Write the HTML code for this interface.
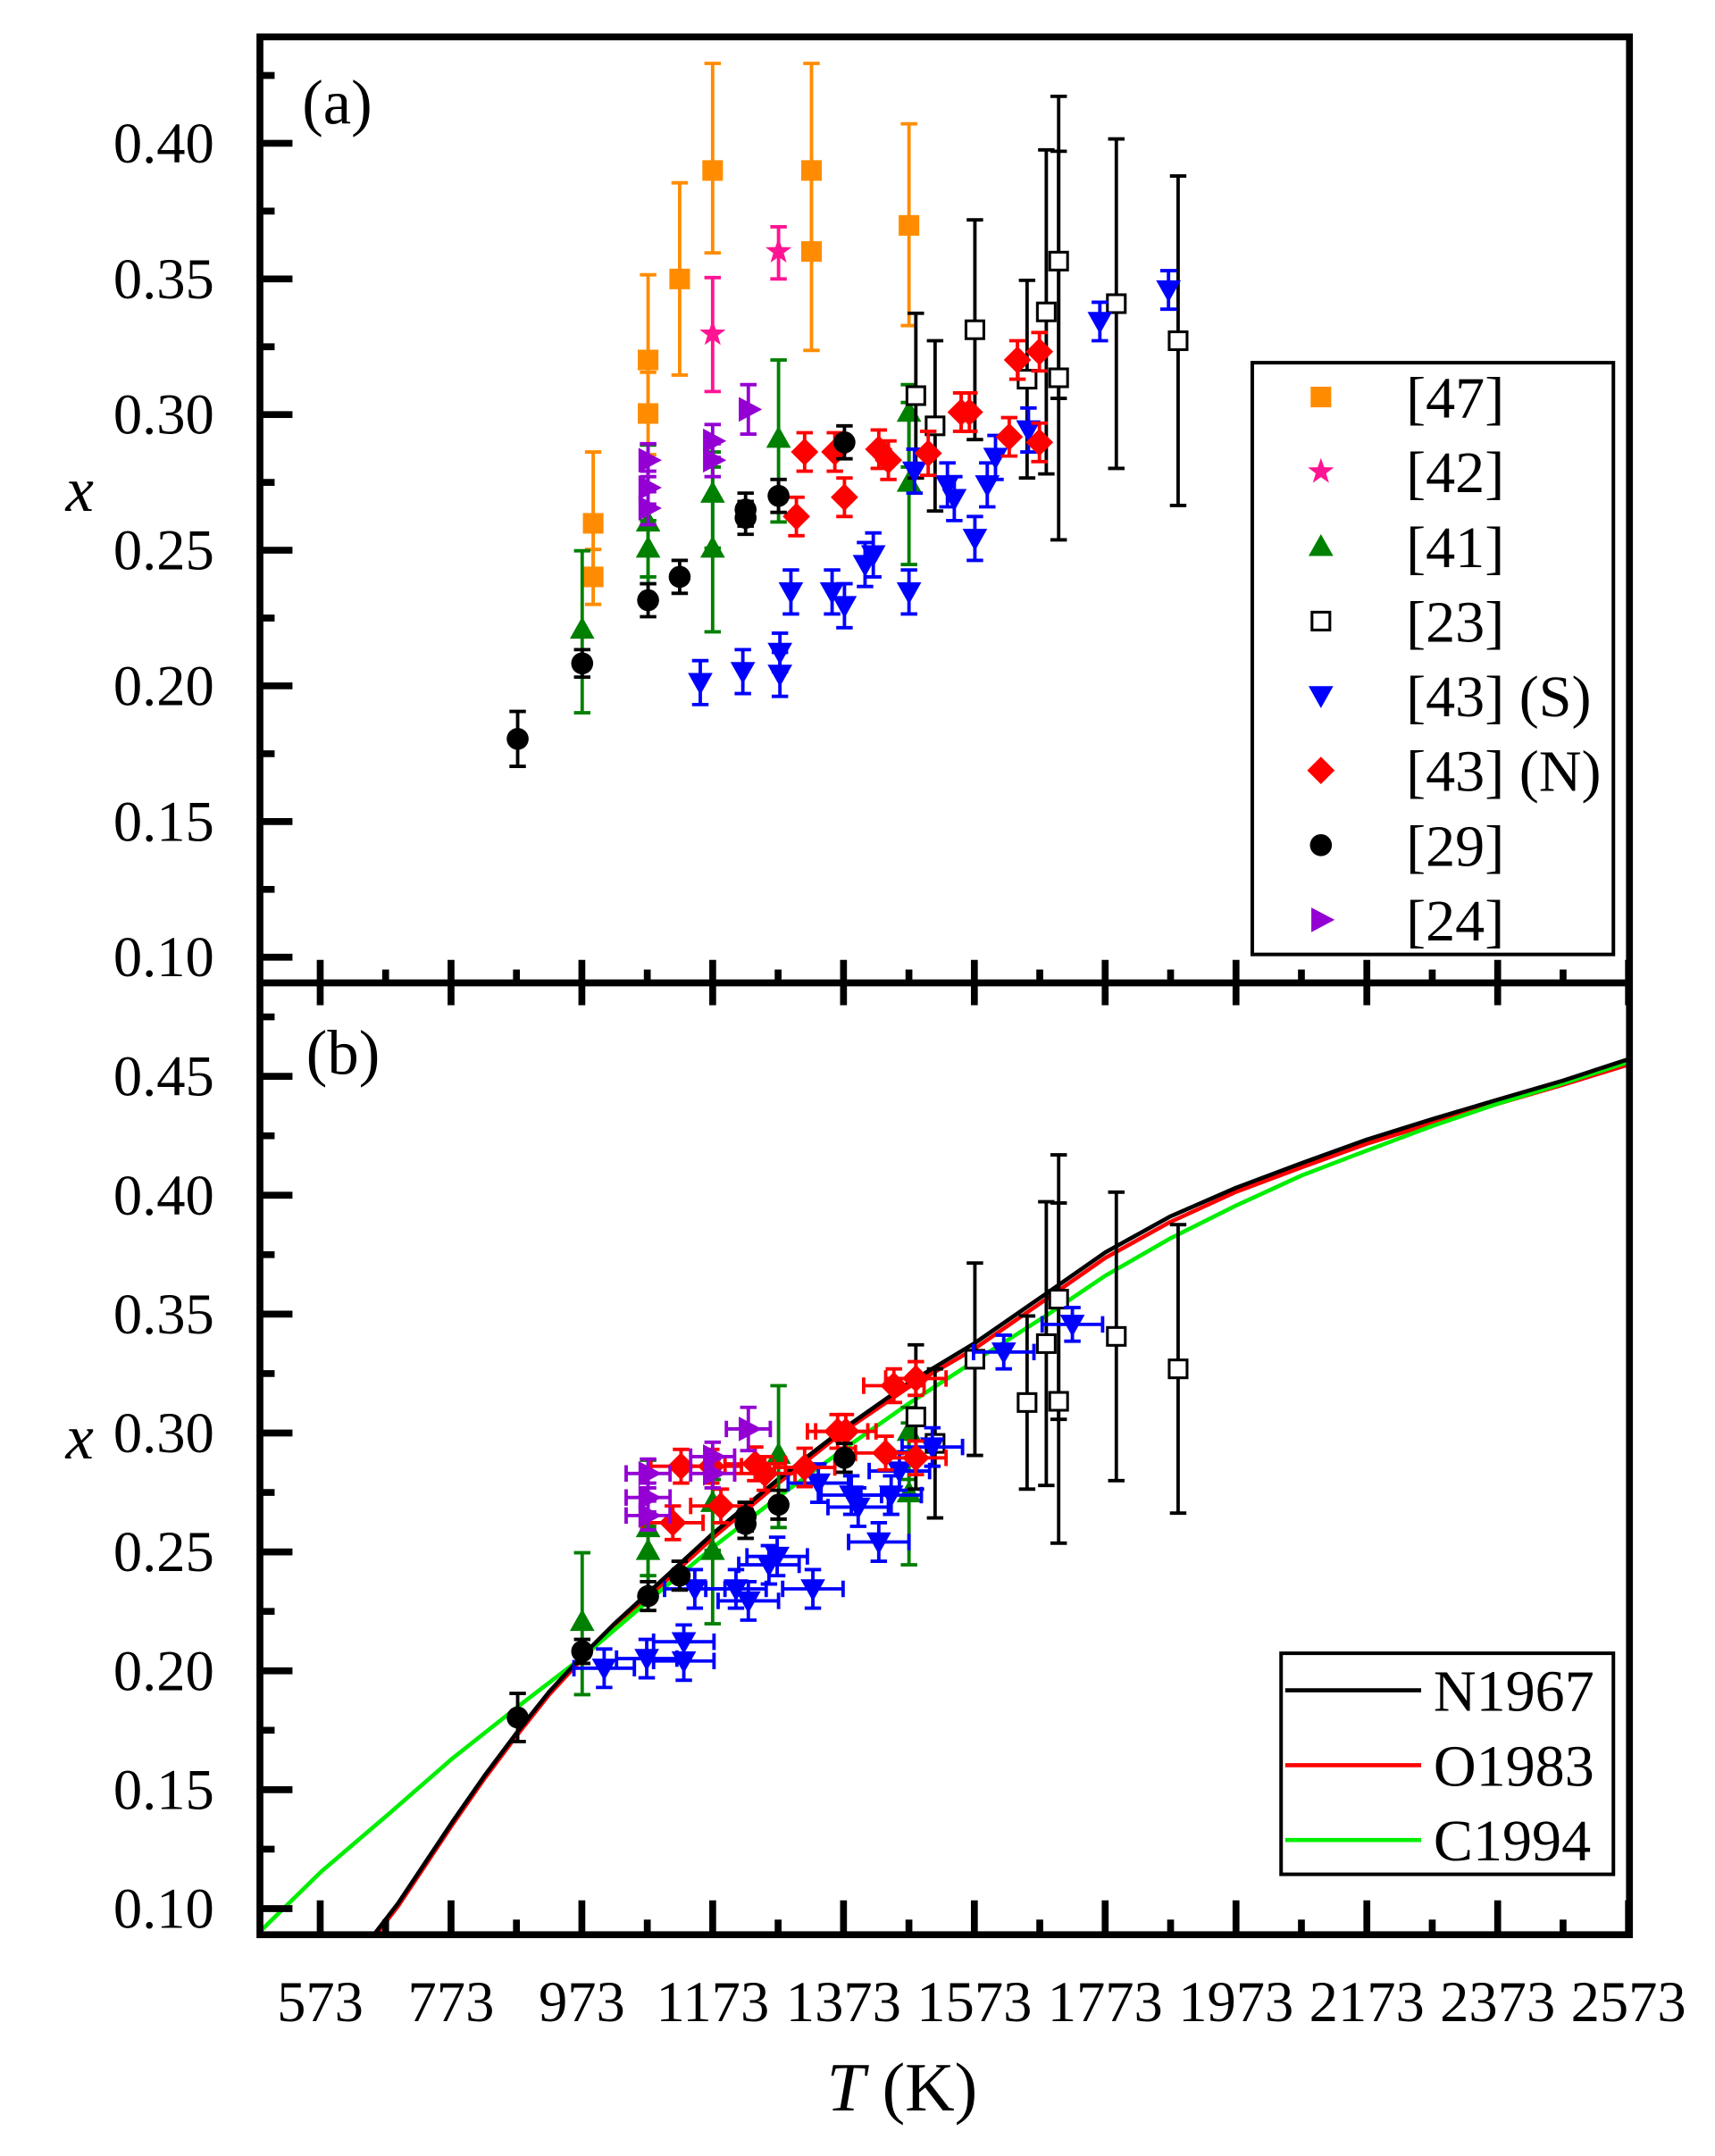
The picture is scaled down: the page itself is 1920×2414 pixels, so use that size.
<!DOCTYPE html>
<html><head><meta charset="utf-8"><style>html,body{margin:0;padding:0;background:#fff}svg{display:block}text{font-family:"Liberation Serif",serif;fill:#000}</style></head>
<body>
<svg id="s" width="1920" height="2414" viewBox="0 0 1249 1570" xmlns="http://www.w3.org/2000/svg"></svg>
<script>
var o='';
function ln(x1,y1,x2,y2,c,w){o+='<line x1="'+x1+'" y1="'+y1+'" x2="'+x2+'" y2="'+y2+'" stroke="'+c+'" stroke-width="'+w+'"/>';}
function tx(x,y,t,sz,anc,extra){o+='<text x="'+x+'" y="'+y+'" font-size="'+sz+'" text-anchor="'+(anc||'start')+'" '+(extra||'')+'>'+t+'</text>';}
function mk(t,x,y,c){
 var r=7.5;
 if(t=='sq')o+='<rect x="'+(x-r)+'" y="'+(y-r)+'" width="'+2*r+'" height="'+2*r+'" fill="'+c+'"/>';
 else if(t=='osq')o+='<rect x="'+(x-6.5)+'" y="'+(y-6.5)+'" width="13" height="13" fill="#fff" stroke="#000" stroke-width="2"/>';
 else if(t=='ci')o+='<circle cx="'+x+'" cy="'+y+'" r="8" fill="'+c+'"/>';
 else {var p;
  if(t=='tu')p=[[0,-9],[9,7],[-9,7]];
  else if(t=='td')p=[[0,9],[9,-7],[-9,-7]];
  else if(t=='tr')p=[[10,0],[-7,-9],[-7,9]];
  else if(t=='di')p=[[0,-10],[10,0],[0,10],[-10,0]];
  else if(t=='st'){p=[];for(var i=0;i<10;i++){var a=-Math.PI/2+i*Math.PI/5,rr=i%2?4:10;p.push([rr*Math.cos(a),rr*Math.sin(a)]);}}
  o+='<polygon points="'+p.map(function(q){return (x+q[0])+','+(y+q[1]);}).join(' ')+'" fill="'+c+'"/>';}
}
function eb(x,y1,y2,c){ln(x,y1,x,y2,c,2.5);ln(x-6,y1,x+6,y1,c,2.5);ln(x-6,y2,x+6,y2,c,2.5);}
function hb(y,x1,x2,c){ln(x1,y,x2,y,c,2.5);ln(x1,y-6,x1,y+6,c,2.5);ln(x2,y-6,x2,y+6,c,2.5);}
var S=[
 {t:'sq',c:'#ff8c00',sh:0,h:0,nb:1,d:[[432,381,52,36],[432,420,20,20],[472,262,62,38],[472,301,30,30],[495,203,70,70],[519,124,78,60],[591,124,78,60],[591,183,60,72],[662,164,74,73]]},
 {t:'st',c:'#ff1493',sh:0,h:0,nb:1,d:[[519,243,41,42],[567,183,18,20]]},
 {t:'tu',c:'#008000',sh:0,h:0,d:[[424,458,57,61],[472,380,56,40],[472,399,20,40],[519,359,30,40],[519,399,59,61],[567,319,57,61],[662,300,20,40],[662,351,58,60]]},
 {t:'osq',c:'#000',sh:0,h:0,d:[[667,288,60,60],[681,310,62,62],[710,240,80,80],[748,276,72,72],[762,227,118,118],[771,190,120,100],[771,275,165,118],[813,221,120,120],[858,248,120,120]]},
 {t:'td',c:'#0000ff',sh:-70,h:22,d:[[510,497,16,16],[541,489,16,16],[568,475,14,14],[568,491,16,16],[576,431,16,16],[606,431,16,16],[615,441,16,16],[630,411,16,16],[636,404,16,16],[662,431,16,16],[666,343,16,16],[690,353,16,16],[695,363,16,16],[710,392,16,16],[719,353,16,16],[725,333,16,16],[749,313,16,16],[801,234,14,14],[851,211,14,14]]},
 {t:'di',c:'#ff0000',sh:-90,h:22,d:[[580,376,14,14],[586,329,14,14],[608,329,14,14],[615,362,14,14],[640,327,14,14],[647,335,14,14],[676,330,16,16],[700,300,14,14],[706,300,14,14],[735,318,14,14],[741,262,14,14],[757,256,14,14],[757,322,14,14]]},
 {t:'ci',c:'#000',sh:0,h:0,d:[[377,538,20,20],[424,483,10,10],[472,437,12,12],[495,420,12,12],[543,371,12,12],[543,377,12,12],[567,361,12,12],[615,322,12,12]]},
 {t:'tr',c:'#9400d3',sh:0,h:16,d:[[472,335,12,12],[472,355,12,12],[472,370,12,12],[519,321,12,12],[519,335,12,12],[545,298,18,18]]}
];
S.forEach(function(s){s.d.forEach(function(p){eb(p[0],p[1]-p[2],p[1]+p[3],s.c);});s.d.forEach(function(p){mk(s.t,p[0],p[1],s.c);});});
function pl(pts,c){o+='<polyline points="'+pts.map(function(q){return q.join(',');}).join(' ')+'" fill="none" stroke="'+c+'" stroke-width="3" stroke-linejoin="round"/>';}
o+='<clipPath id="cb"><rect x="189" y="716" width="998" height="693"/></clipPath><g clip-path="url(#cb)">';
pl([[270,1414],[290,1388],[310,1358],[330,1328],[353,1295],[377,1263],[400,1234],[424,1208],[448,1185],[472,1163],[519,1120],[567,1080],[615,1042],[662,1010],[710,982],[762,946],[805,916],[852,890],[900,868],[948,850],[995,833],[1043,818],[1090,804],[1138,790],[1190,774]],'#ff0000');
pl([[187,1409],[234,1363],[282,1322],[329,1281],[377,1243],[424,1207],[472,1166],[519,1127],[567,1090],[615,1055],[662,1022],[710,991],[762,958],[805,929],[852,902],[900,878],[948,856],[995,838],[1043,820],[1090,804],[1138,789],[1190,772]],'#00ee00');
pl([[270,1412],[290,1386],[310,1356],[330,1326],[353,1293],[377,1261],[400,1232],[424,1206],[448,1182],[472,1160],[519,1117],[567,1077],[615,1040],[662,1007],[710,978],[762,942],[805,912],[852,886],[900,865],[948,847],[995,830],[1043,815],[1090,801],[1138,787],[1190,770]],'#000000');
o+='</g>';
S.forEach(function(s){if(s.nb)return;s.d.forEach(function(p){var x=p[0]+s.sh,y=1390-(697-p[1])*0.8756;eb(x,y-p[2]*0.8756,y+p[3]*0.8756,s.c);if(s.h)hb(y,x-s.h,x+s.h,s.c);});
 s.d.forEach(function(p){var x=p[0]+s.sh,y=1390-(697-p[1])*0.8756;mk(s.t,x,y,s.c);});});
o+='<rect x="189.3" y="26.7" width="997.4" height="1382.3" fill="none" stroke="#000" stroke-width="5"/>';
ln(189,715.7,1187,715.7,'#000',5);
for(var i=0;i<=20;i++){var x=233.2+i*47.64;if(x<190||x>1186)continue;var maj=i%2==0;
 if(maj){ln(x,699,x,732,'#000',5);ln(x,1409,x,1384,'#000',5);}else{ln(x,715,x,706,'#000',5);ln(x,1409,x,1398,'#000',5);}}
var xl=['573','773','973','1173','1373','1573','1773','1973','2173','2373','2573'];
xl.forEach(function(t,i){tx(233.2+i*95.28,1472,t,42,'middle');});
for(var i=0;i<14;i++){var y=697-i*49.4;if(y<30)break;var maj=i%2==0;ln(189,y,189+(maj?24:11),y,'#000',5);
 if(maj)tx(156,y+14,(0.10+i*0.025).toFixed(2),42,'end');}
for(var i=0;i<16;i++){var y=1390-i*43.3;if(y<720)break;var maj=i%2==0;ln(189,y,189+(maj?24:11),y,'#000',5);
 if(maj)tx(156,y+14,(0.10+i*0.025).toFixed(2),42,'end');}
tx(220,90,'(a)',46);tx(223,782,'(b)',46);
tx(58,372,'x',46,'middle','font-style="italic"');tx(58,1062,'x',46,'middle','font-style="italic"');
o+='<text x="657" y="1537" font-size="50" text-anchor="middle"><tspan font-style="italic">T</tspan> (K)</text>';
o+='<rect x="912" y="264" width="263" height="431" fill="#fff" stroke="#000" stroke-width="2.6"/>';
var L=[['sq','#ff8c00','[47]'],['st','#ff1493','[42]'],['tu','#008000','[41]'],['osq','#000','[23]'],['td','#0000ff','[43] (S)'],['di','#ff0000','[43] (N)'],['ci','#000','[29]'],['tr','#9400d3','[24]']];
L.forEach(function(l,i){var y=289+i*54.4;mk(l[0],962,y,l[1]);tx(1024,y+15,l[2],43);});
o+='<rect x="933" y="1204" width="242" height="161" fill="#fff" stroke="#000" stroke-width="2.6"/>';
[['#000','N1967'],['#ff0000','O1983'],['#00ee00','C1994']].forEach(function(l,i){var y=1231+i*54.5;ln(936,y,1035,y,l[0],3);tx(1044,y+15,l[1],43);});
document.getElementById('s').innerHTML=o;
</script>
</body></html>
